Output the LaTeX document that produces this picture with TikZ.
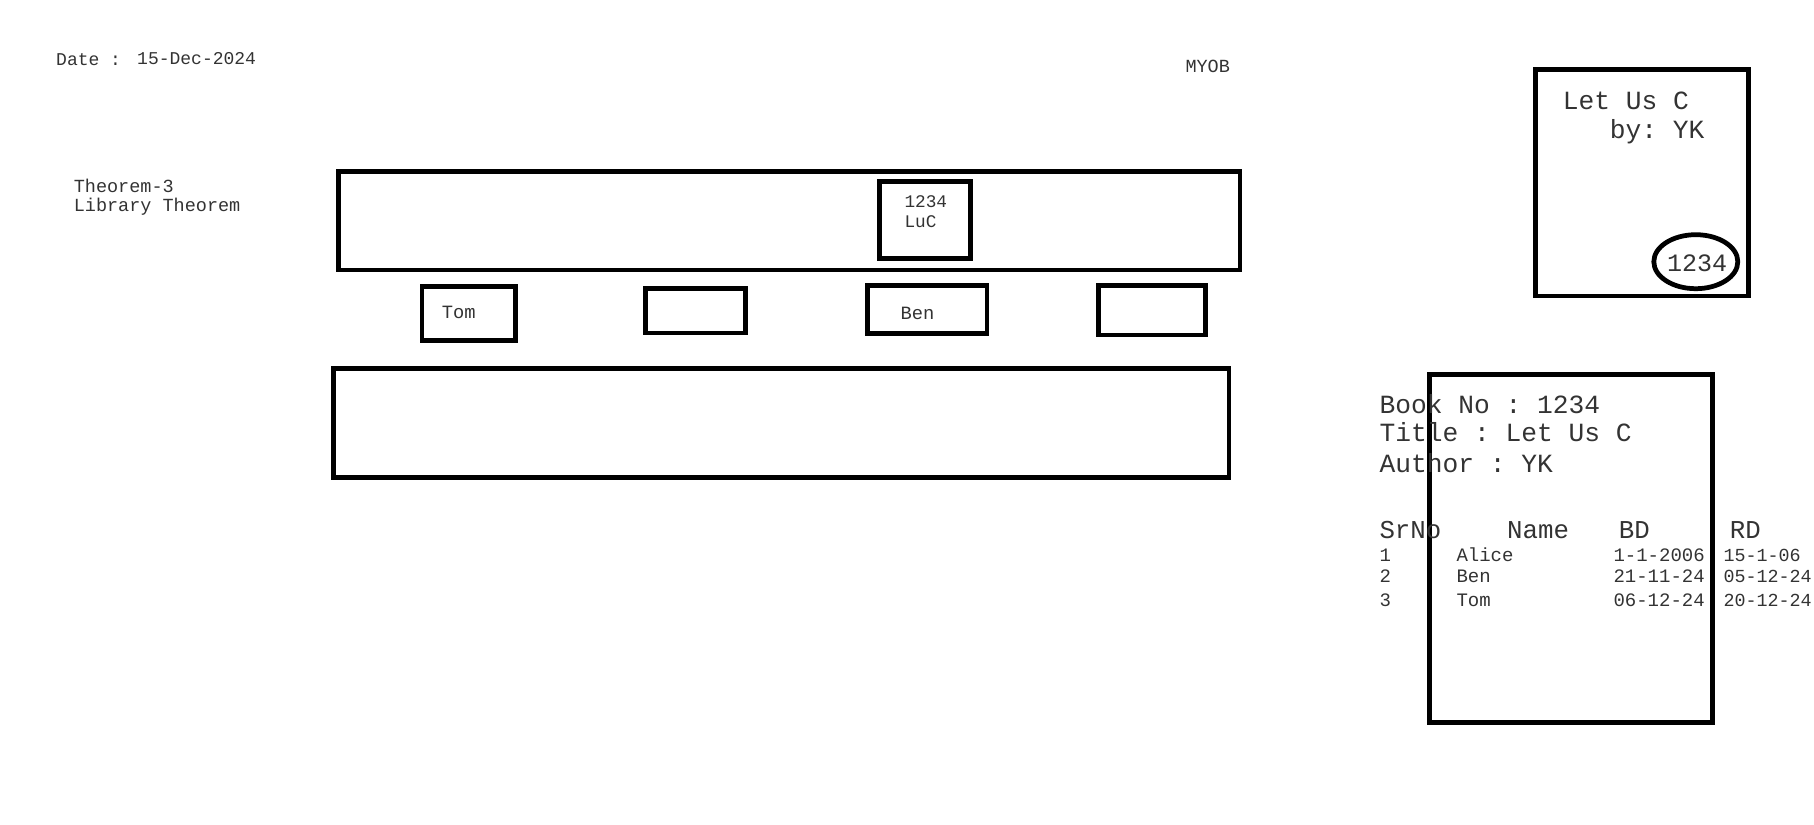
\documentclass[tikz,border=0pt]{standalone}
\usepackage{fontspec}
\setmonofont{Liberation Mono}
\usepackage{tikz}
\usetikzlibrary{calc}
\tikzset{
	box/.style={draw=black,line width=1.9pt}, % all frames have the same thick black line
	txt/.style={anchor=base west,inner sep=0pt,text=black!80,font=\ttfamily\fontsize{7.4}{9}\selectfont},
	bigtxt/.style={txt,font=\ttfamily\fontsize{10.5}{12}\selectfont},
	rowtxt/.style={txt,font=\ttfamily\fontsize{7.6}{9}\selectfont},
}

\begin{document}
\begin{tikzpicture}[x=0.4pt,y=-0.4pt]
			% page size in pixels of the sketch
			\useasboundingbox (0,0) rectangle (1814,825);
			
			% header texts
			\node[txt,font=\ttfamily\fontsize{7.2}{9}\selectfont] (datelbl) at (55.7,66) {Date :};
			\node[txt,font=\ttfamily\fontsize{7.2}{9}\selectfont] (dateval) at (136.7,65) {15-Dec-2024};
			\node[txt] (myob) at (1185,72.3) {MYOB};
			\node[txt] (thm) at (73.3,192.3) {Theorem-3};
			\node[txt] (thmname) at (73.3,211.7) {Library Theorem};
			
			% upper shelf with one book on it
			\draw[box] (338.5,171.7) rectangle (1240,270);
			\draw[box] (879.7,181.7) rectangle (970.3,258.3);
			\node[txt,font=\ttfamily\fontsize{7.1}{9}\selectfont] (bookno) at (904,207.3) {1234};
			\node[txt,font=\ttfamily\fontsize{7.1}{9}\selectfont] (bookcode) at (904,227.7) {LuC};
			
			% readers between the shelves
			\draw[box] (422,286.8) rectangle (515.8,340.2);
			\node[txt,font=\ttfamily\fontsize{7.5}{9}\selectfont] (tom) at (441.4,318.3) {Tom};
			\draw[box] (645.5,288.8) rectangle (745.5,333);
			\draw[box] (867.5,285.5) rectangle (987,333.2);
			\node[txt,font=\ttfamily\fontsize{7.5}{9}\selectfont] (ben) at (900,320) {Ben};
			\draw[box] (1098.3,285.5) rectangle (1205.2,335);
			
			% lower shelf (empty)
			\draw[box] (333.8,368.2) rectangle (1229,477.3);
			
			% book cover
			\draw[box] (1535.7,69.7) rectangle (1748.3,296);
			\node[bigtxt] (covertitle) at (1562.3,109.3) {Let Us C};
			\node[bigtxt] (coverauthor) at (1609.3,138.3) {by: YK};
			\draw[box] (1695.8,261.7) ellipse [x radius=42, y radius=27];
			\node[txt,font=\ttfamily\fontsize{10}{12}\selectfont] (coverno) at (1666.7,271.7) {1234};
			
			% issue card
			\draw[box] (1429.7,374.3) rectangle (1712.5,722.5);
			\node[bigtxt] (cardno) at (1379,413.3) {Book No : 1234};
			\node[bigtxt] (cardtitle) at (1379,441.7) {Title : Let Us C};
			\node[bigtxt] (cardauthor) at (1379,472.7) {Author : YK};
			
			% table head
			\node[bigtxt,font=\ttfamily\fontsize{10.3}{12}\selectfont] (hsr) at (1379,538.3) {SrNo};
			\node[bigtxt,font=\ttfamily\fontsize{10.3}{12}\selectfont] (hname) at (1506.7,538.3) {Name};
			\node[bigtxt,font=\ttfamily\fontsize{10.3}{12}\selectfont] (hbd) at (1618.3,538.3) {BD};
			\node[bigtxt,font=\ttfamily\fontsize{10.3}{12}\selectfont] (hrd) at (1729.3,538.3) {RD};
			
			% table rows: number/name/borrow date/return date/baseline
			\foreach \n/\who/\bd/\rd/\yy in {1/Alice/1-1-2006/15-1-06/561.7,2/Ben/21-11-24/05-12-24/582.7,3/Tom/06-12-24/20-12-24/606}{
				\node[rowtxt] (sr\n) at (1379,\yy) {\n};
				\node[rowtxt] (who\n) at (1456,\yy) {\who};
				\node[rowtxt] (bd\n) at (1613,\yy) {\bd};
				\node[rowtxt,font=\ttfamily\fontsize{7.35}{9}\selectfont] (rd\n) at (1723,\yy) {\rd};
			}
			
\end{tikzpicture}
\end{document}
